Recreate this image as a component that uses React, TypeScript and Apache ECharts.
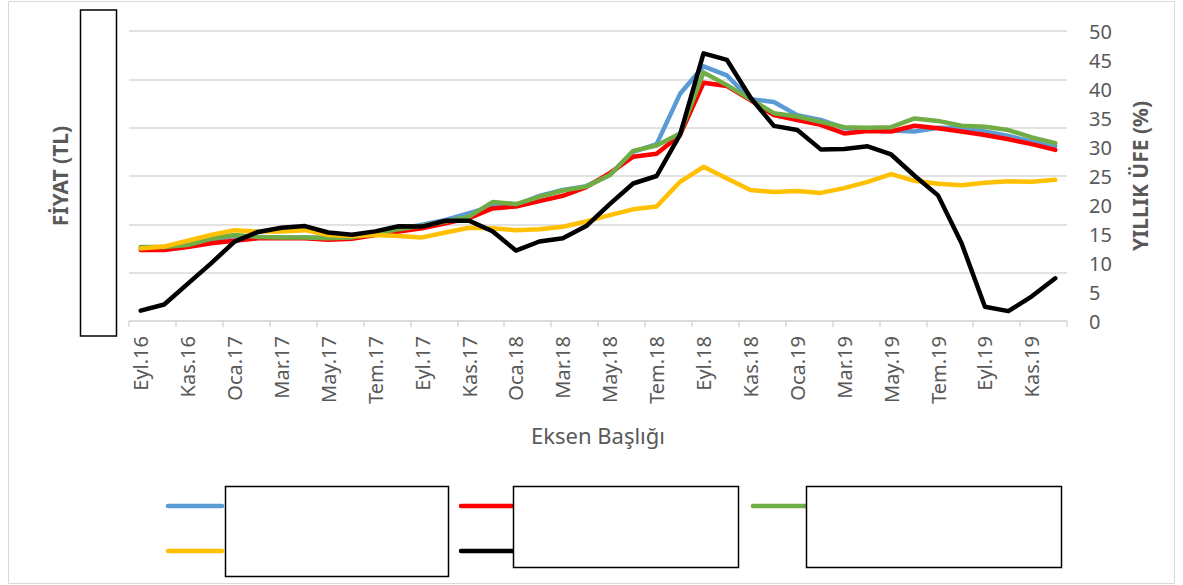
import React, { useEffect, useRef } from "react";
import * as echarts from "echarts";

const categories = [
  "Eyl.16", "Eki.16", "Kas.16", "Ara.16",
  "Oca.17", "Şub.17", "Mar.17", "Nis.17", "May.17", "Haz.17", "Tem.17", "Ağu.17", "Eyl.17", "Eki.17", "Kas.17", "Ara.17",
  "Oca.18", "Şub.18", "Mar.18", "Nis.18", "May.18", "Haz.18", "Tem.18", "Ağu.18", "Eyl.18", "Eki.18", "Kas.18", "Ara.18",
  "Oca.19", "Şub.19", "Mar.19", "Nis.19", "May.19", "Haz.19", "Tem.19", "Ağu.19", "Eyl.19", "Eki.19", "Kas.19", "Ara.19",
];

// price series (left axis, TL)
const blueSeries = [1.51, 1.51, 1.57, 1.68, 1.76, 1.74, 1.73, 1.73, 1.72, 1.74, 1.82, 1.90, 1.99, 2.09, 2.23, 2.37, 2.40, 2.59, 2.71, 2.79, 3.02, 3.50, 3.66, 4.70, 5.27, 5.08, 4.59, 4.53, 4.26, 4.16, 3.99, 3.97, 3.94, 3.92, 4.00, 3.99, 3.92, 3.83, 3.71, 3.62];
const redSeries = [1.47, 1.47, 1.53, 1.61, 1.66, 1.71, 1.71, 1.71, 1.68, 1.70, 1.78, 1.85, 1.92, 2.02, 2.13, 2.33, 2.37, 2.48, 2.59, 2.77, 3.06, 3.40, 3.46, 3.85, 4.93, 4.86, 4.57, 4.26, 4.16, 4.06, 3.88, 3.93, 3.92, 4.04, 3.99, 3.92, 3.85, 3.76, 3.66, 3.54];
const greenSeries = [1.53, 1.53, 1.57, 1.70, 1.78, 1.74, 1.73, 1.73, 1.71, 1.73, 1.80, 1.90, 1.97, 2.06, 2.16, 2.46, 2.42, 2.57, 2.70, 2.78, 3.02, 3.52, 3.63, 3.88, 5.14, 4.88, 4.59, 4.30, 4.23, 4.12, 4.01, 4.00, 4.01, 4.19, 4.14, 4.04, 4.02, 3.95, 3.80, 3.68];
const yellowSeries = [1.50, 1.54, 1.66, 1.78, 1.88, 1.85, 1.85, 1.88, 1.78, 1.76, 1.78, 1.76, 1.73, 1.83, 1.93, 1.92, 1.88, 1.90, 1.95, 2.06, 2.19, 2.31, 2.37, 2.88, 3.19, 2.95, 2.71, 2.67, 2.69, 2.65, 2.75, 2.88, 3.04, 2.90, 2.84, 2.81, 2.86, 2.89, 2.88, 2.92];
// annual PPI (right axis, %)
const ufeSeries = [1.78, 2.84, 6.41, 9.94, 13.69, 15.36, 16.09, 16.37, 15.26, 14.87, 15.45, 16.34, 16.28, 17.28, 17.30, 15.47, 12.14, 13.71, 14.28, 16.37, 20.16, 23.71, 25.0, 32.13, 46.15, 45.01, 38.54, 33.64, 32.93, 29.59, 29.64, 30.12, 28.71, 25.04, 21.66, 13.45, 2.45, 1.70, 4.26, 7.36];

const FONT = '"Noto Sans", "DejaVu Sans", sans-serif';
const GRAY = "#595959";
const GRID = "#D9D9D9";

function lineSeries(name: string, data: number[], color: string, axis: number) {
  return {
    name,
    type: "line",
    data,
    yAxisIndex: axis,
    symbol: "none",
    showSymbol: false,
    smooth: false,
    itemStyle: { color },
    lineStyle: { color, width: 4.5, cap: "round", join: "round" },
  };
}

export default function App() {
  const ref = useRef<HTMLDivElement>(null);

  useEffect(() => {
    if (!ref.current) return;
    const chart = echarts.init(ref.current, undefined, { renderer: "svg" });
    const legendLine = (x1: number, x2: number, y: number, color: string) => ({
      type: "line",
      shape: { x1, y1: y, x2, y2: y },
      style: { stroke: color, lineWidth: 4.5, lineCap: "round" },
      z: 50,
      silent: true,
    });
    const box = (x: number, y: number, w: number, h: number) => ({
      type: "rect",
      shape: { x, y, width: w, height: h },
      style: { fill: "#ffffff", stroke: "#000000", lineWidth: 1.5 },
      z: 60,
      silent: true,
    });
    chart.setOption({
      animation: false,
      textStyle: { fontFamily: FONT },
      grid: { left: 129, right: 116, top: 31, bottom: 264, containLabel: false, outerBoundsMode: "none" },
      xAxis: {
        type: "category",
        data: categories,
        boundaryGap: true,
        axisLine: { show: true, lineStyle: { color: GRID, width: 1.5 } },
        axisTick: { show: true, interval: 1, length: 6, lineStyle: { color: GRID, width: 1.5 } },
        axisLabel: { interval: 1, rotate: 90, color: GRAY, fontSize: 20, fontFamily: FONT, margin: 15 },
        splitLine: { show: false },
      },
      yAxis: [
        {
          type: "value",
          position: "left",
          min: 0,
          max: 6,
          interval: 1,
          axisLabel: { show: false },
          axisLine: { show: false },
          axisTick: { show: false },
          splitLine: { show: true, lineStyle: { color: GRID, width: 1.5 } },
        },
        {
          type: "value",
          position: "right",
          min: 0,
          max: 50,
          interval: 5,
          axisLabel: { show: true, color: GRAY, fontSize: 20, fontFamily: FONT, margin: 22, align: "left" },
          axisLine: { show: false },
          axisTick: { show: false },
          splitLine: { show: false },
        },
      ],
      series: [
        lineSeries("Seri 1", blueSeries, "#5B9BD5", 0),
        lineSeries("Seri 2", redSeries, "#FF0000", 0),
        lineSeries("Seri 3", greenSeries, "#70AD47", 0),
        lineSeries("Seri 4", yellowSeries, "#FFC000", 0),
        lineSeries("Yıllık ÜFE", ufeSeries, "#000000", 1),
      ],
      graphic: [
        {
          type: "rect",
          shape: { x: 8.5, y: 1.5, width: 1166, height: 582 },
          style: { fill: "none", stroke: GRID, lineWidth: 1 },
          z: -10,
          silent: true,
        },
        box(80.5, 10, 36, 326),
        {
          type: "text",
          x: 60,
          y: 176,
          rotation: Math.PI / 2,
          style: { text: "FİYAT (TL)", fill: GRAY, fontSize: 21, fontWeight: "bold", fontFamily: FONT, align: "center", verticalAlign: "middle" },
          z: 50,
        },
        {
          type: "text",
          x: 1140,
          y: 176,
          rotation: Math.PI / 2,
          style: { text: "YILLIK ÜFE (%)", fill: GRAY, fontSize: 21, fontWeight: "bold", fontFamily: FONT, align: "center", verticalAlign: "middle" },
          z: 50,
        },
        {
          type: "text",
          x: 598,
          y: 435,
          style: { text: "Eksen Başlığı", fill: GRAY, fontSize: 22, fontFamily: FONT, align: "center", verticalAlign: "middle" },
          z: 50,
        },
        legendLine(168, 222, 506, "#5B9BD5"),
        legendLine(461, 513, 506, "#FF0000"),
        legendLine(753, 806, 506, "#70AD47"),
        legendLine(168, 222, 551, "#FFC000"),
        legendLine(461, 513, 551, "#000000"),
        box(225.5, 486.5, 223, 90),
        box(513.5, 486.5, 225, 81),
        box(806.5, 486.5, 255, 81),
      ],
    });
    return () => chart.dispose();
  }, []);

  return (
    <div
      ref={ref}
      style={{ position: "absolute", left: 0, top: 0, width: 1183, height: 585, background: "#ffffff" }}
    />
  );
}
